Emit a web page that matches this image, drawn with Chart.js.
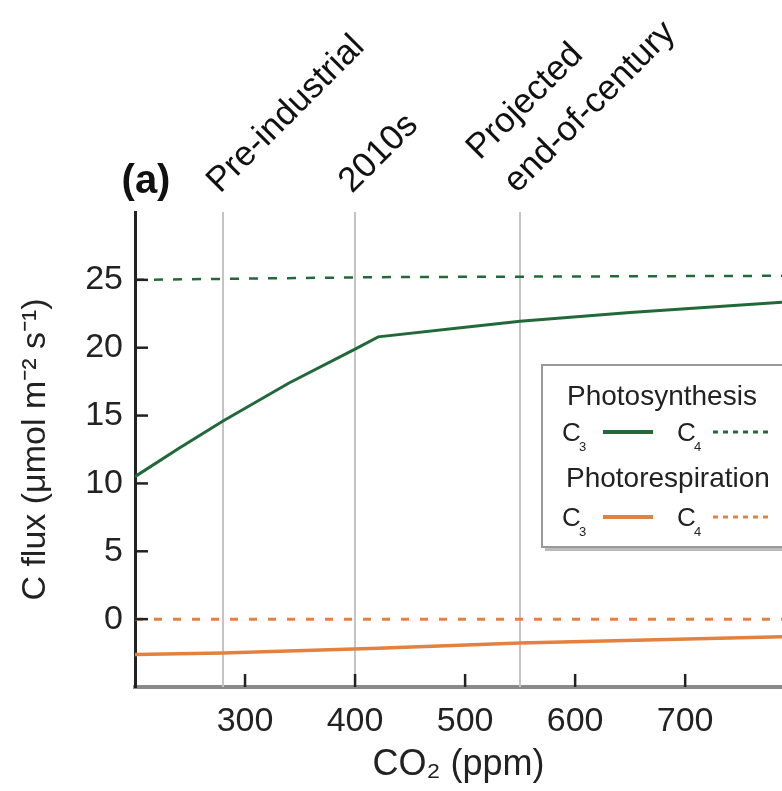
<!DOCTYPE html>
<html>
<head>
<meta charset="utf-8">
<script src="https://cdn.jsdelivr.net/npm/chart.js@4.4.1/dist/chart.umd.min.js"></script>
<style>
  body { margin: 0; background: #fff; }
  #wrap { width: 782px; height: 791px; overflow: hidden; }
</style>
</head>
<body>
<div id="wrap"><canvas id="flux-chart" width="782" height="791"></canvas></div>
<script>
// values
var c3PhotoX = [200, 240, 280, 340, 400, 421, 500, 550, 650, 788];
var c3PhotoY = [10.5, 12.6, 14.6, 17.4, 19.9, 20.8, 21.5, 21.95, 22.6, 23.35];
var c4PhotoX = [200, 420, 788];
var c4PhotoY = [25.0, 25.2, 25.3];
var c3RespX = [200, 280, 421, 550, 788];
var c3RespY = [-2.6, -2.5, -2.15, -1.75, -1.3];
var c4RespX = [200, 788];
var c4RespY = [0, 0];

var xTicks = [300, 400, 500, 600, 700];
var yTicks = [0, 5, 10, 15, 20, 25];
var refLines = [280, 400, 550];
var refLabels = [["Pre-industrial"], ["2010s"], ["Projected", "end-of-century"]];

var GREEN = "#22693a";
var ORANGE = "#e3823f";
var FONT = "'Liberation Sans', Arial, sans-serif";

function pts(xs, ys) {
  return xs.map(function (x, i) { return {x: x, y: ys[i]}; });
}

var refLinesPlugin = {
  id: "refLines",
  beforeDatasetsDraw: function (chart) {
    var ctx = chart.ctx, x = chart.scales.x, a = chart.chartArea;
    ctx.save();
    ctx.strokeStyle = "#c4c4c4";
    ctx.lineWidth = 2;
    refLines.forEach(function (v) {
      var px = Math.round(x.getPixelForValue(v));
      ctx.beginPath();
      ctx.moveTo(px, a.top);
      ctx.lineTo(px, a.bottom);
      ctx.stroke();
    });
    ctx.restore();
  }
};

var decorPlugin = {
  id: "decor",
  afterDraw: function (chart) {
    var ctx = chart.ctx, xs = chart.scales.x, ys = chart.scales.y, a = chart.chartArea;
    ctx.save();

    // inward tick marks
    ctx.strokeStyle = "#222";
    ctx.lineWidth = 2.5;
    xTicks.forEach(function (v) {
      var px = xs.getPixelForValue(v);
      ctx.beginPath(); ctx.moveTo(px, a.bottom); ctx.lineTo(px, a.bottom - 13); ctx.stroke();
    });
    yTicks.forEach(function (v) {
      var py = ys.getPixelForValue(v);
      ctx.beginPath(); ctx.moveTo(a.left, py); ctx.lineTo(a.left + 13, py); ctx.stroke();
    });

    // panel letter
    ctx.fillStyle = "#111";
    ctx.font = "bold 40px " + FONT;
    ctx.textAlign = "center";
    ctx.textBaseline = "alphabetic";
    ctx.fillText("(a)", 146, 193);

    // rotated labels above the reference lines
    ctx.font = "35px " + FONT;
    ctx.textAlign = "left";
    refLines.forEach(function (v, i) {
      var px = xs.getPixelForValue(v);
      var lines = refLabels[i];
      ctx.save();
      ctx.translate(px - 3, 194);
      ctx.rotate(-Math.PI / 4);
      for (var k = 0; k < lines.length; k++) {
        var off = (lines.length - 1 - k) * 50;
        ctx.fillText(lines[k], k === lines.length - 1 ? 0 : -3, -off);
      }
      ctx.restore();
    });

    // legend box
    var bx = 542, by = 365, bw = 300, bh = 182;
    ctx.fillStyle = "#bbb";
    ctx.fillRect(bx + 3, by + bh, bw, 4);
    ctx.fillStyle = "#fff";
    ctx.fillRect(bx, by, bw, bh);
    ctx.strokeStyle = "#9a9a9a";
    ctx.lineWidth = 2;
    ctx.strokeRect(bx, by, bw, bh);

    ctx.fillStyle = "#222";
    ctx.font = "28px " + FONT;
    ctx.fillText("Photosynthesis", 567, 405);
    ctx.fillText("Photorespiration", 566, 487);

    function row(y, color, dash) {
      ctx.fillStyle = "#222";
      ctx.font = "26px " + FONT;
      ctx.fillText("C", 562, y + 9);
      ctx.fillText("C", 677, y + 9);
      ctx.font = "13px " + FONT;
      ctx.fillText("3", 579, y + 19);
      ctx.fillText("4", 694, y + 19);
      ctx.strokeStyle = color;
      ctx.lineWidth = 4;
      ctx.setLineDash([]);
      ctx.beginPath(); ctx.moveTo(603, y); ctx.lineTo(653, y); ctx.stroke();
      ctx.lineWidth = 3;
      ctx.setLineDash(dash);
      ctx.beginPath(); ctx.moveTo(713, y); ctx.lineTo(770, y); ctx.stroke();
      ctx.setLineDash([]);
    }
    row(432, GREEN, [5, 5]);
    row(517, ORANGE, [5, 5]);

    ctx.restore();
  }
};

new Chart(document.getElementById("flux-chart"), {
  type: "line",
  data: {
    datasets: [{
      label: "C3 photosynthesis",
      data: pts(c3PhotoX, c3PhotoY),
      borderColor: GREEN,
      borderWidth: 3
    }, {
      label: "C4 photosynthesis",
      data: pts(c4PhotoX, c4PhotoY),
      borderColor: GREEN,
      borderWidth: 2.5,
      borderDash: [9, 10]
    }, {
      label: "C3 photorespiration",
      data: pts(c3RespX, c3RespY),
      borderColor: ORANGE,
      borderWidth: 3.5
    }, {
      label: "C4 photorespiration",
      data: pts(c4RespX, c4RespY),
      borderColor: ORANGE,
      borderWidth: 3,
      borderDash: [8, 11]
    }]
  },
  options: {
    responsive: false,
    animation: false,
    devicePixelRatio: 1,
    elements: { point: { radius: 0 }, line: { tension: 0 } },
    layout: { padding: { left: 0, top: 212, right: 0, bottom: 0 } },
    plugins: { legend: { display: false }, tooltip: { enabled: false } },
    scales: {
      x: {
        type: "linear",
        min: 200,
        max: 788,
        afterBuildTicks: function (s) { s.ticks = xTicks.map(function (v) { return {value: v}; }); },
        afterFit: function (s) { s.height = 104; },
        grid: { display: false, drawTicks: false },
        border: { display: true, color: "#8a8a8a", width: 4 },
        ticks: { color: "#222", padding: 14, maxRotation: 0, font: { family: FONT, size: 34 } },
        title: {
          display: true,
          text: "CO\u2082 (ppm)",
          color: "#222",
          align: "center",
          padding: { top: 0, bottom: 4 },
          font: { family: FONT, size: 36 }
        }
      },
      y: {
        min: -5,
        max: 30,
        afterBuildTicks: function (s) { s.ticks = yTicks.map(function (v) { return {value: v}; }); },
        afterFit: function (s) { s.width = 135; },
        grid: { display: false, drawTicks: false },
        border: { display: true, color: "#222", width: 3 },
        ticks: { color: "#222", padding: 12, font: { family: FONT, size: 34 } },
        title: {
          display: true,
          text: "C flux (\u03bcmol m\u207b\u00b2 s\u207b\u00b9)",
          color: "#222",
          padding: { top: 15, bottom: 0 },
          font: { family: FONT, size: 34 }
        }
      }
    }
  },
  plugins: [refLinesPlugin, decorPlugin]
});
</script>
</body>
</html>
